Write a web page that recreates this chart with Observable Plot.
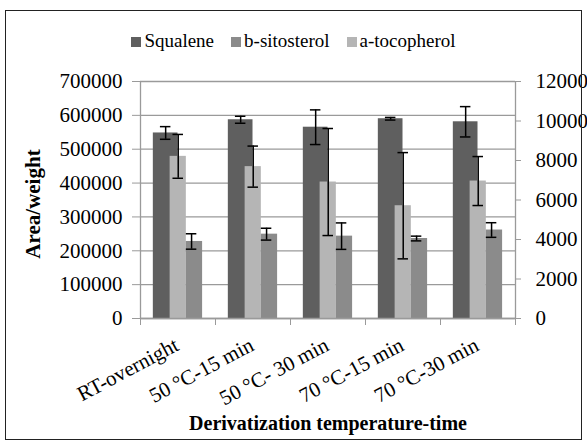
<!DOCTYPE html>
<html><head><meta charset="utf-8">
<script src="https://cdn.jsdelivr.net/npm/d3@7"></script>
<script src="https://cdn.jsdelivr.net/npm/@observablehq/plot@0.6"></script>
<style>
body{margin:0;background:#fff;font-family:"Liberation Serif","Times New Roman",Times,"DejaVu Serif",serif;}
#wrap{position:relative;width:587px;height:444px;}
#chart{position:absolute;left:0;top:0;}
#chart svg, #chart svg text{font-family:"Liberation Serif","Times New Roman",Times,"DejaVu Serif",serif !important;}
#frame{position:absolute;left:5px;top:10px;width:577px;height:430px;border:1.5px solid #222;box-sizing:border-box;pointer-events:none;}
#legend{position:absolute;top:30px;left:0;width:587px;display:flex;justify-content:center;gap:17px;font-size:19px;line-height:22px;color:#000;}
#legend span.sw{display:inline-block;width:10px;height:10px;margin-right:3px;}
</style></head><body>
<div id="wrap"><div id="chart"></div><div id="legend"></div><div id="frame"></div></div>
<script>
const categories = ["RT-overnight", "50 °C-15 min", "50 °C- 30 min", "70 °C-15 min", "70 °C-30 min"];
const seriesNames = ["Squalene", "b-sitosterol", "a-tocopherol"];
const squalene = [548000, 587000, 565000, 590000, 581000];
const squaleneErr = [18700, 10300, 51200, 3900, 44800];
const sitosterol = [3900, 4270, 4170, 4050, 4480];
const sitosterolErr = [390, 300, 670, 120, 370];
const tocopherol = [8210, 7690, 6910, 5710, 6960];
const tocopherolErr = [1110, 1040, 2710, 2690, 1240];
const leftTicks = [0, 100000, 200000, 300000, 400000, 500000, 600000, 700000];
const rightTicks = [0, 2000, 4000, 6000, 8000, 10000, 12000];
const colors = {"Squalene": "#5f5f5f", "b-sitosterol": "#8b8b8b", "a-tocopherol": "#b5b5b5"};

const k = 700000 / 12000; // right axis -> left axis units
const rows = [];
categories.forEach((c, i) => {
  const s = i + 0.5 - 0.329;
  rows.push({series: "Squalene", cat: c, x1: s, x2: s + 0.329, ex: s + 0.1645, v: squalene[i], e: squaleneErr[i]});
  rows.push({series: "a-tocopherol", cat: c, x1: s + 0.224, x2: s + 0.44, ex: s + 0.332, v: tocopherol[i] * k, e: tocopherolErr[i] * k});
  rows.push({series: "b-sitosterol", cat: c, x1: s + 0.44, x2: s + 0.657, ex: s + 0.51, v: sitosterol[i] * k, e: sitosterolErr[i] * k});
});
const capW = 0.07;
const grid = "#9a9a9a";
const FF = "'Liberation Serif','Times New Roman',Times,'DejaVu Serif',serif";

const chart = Plot.plot({
  width: 587, height: 444,
  marginLeft: 140, marginRight: 72, marginTop: 81, marginBottom: 126,
  style: {fontFamily: FF, fontSize: "21px", color: "#000", background: "transparent"},
  x: {type: "linear", domain: [0, categories.length]},
  y: {domain: [0, 700000]},
  marks: [
    Plot.ruleY(leftTicks, {stroke: grid, strokeWidth: 1.3}),
    Plot.ruleX([0, categories.length], {stroke: grid, strokeWidth: 1.3}),
    ...["Squalene", "a-tocopherol", "b-sitosterol"].map(name =>
      Plot.rect(rows.filter(r => r.series === name), {x1: "x1", x2: "x2", y1: 0, y2: "v", fill: colors[name]})
    ),
    Plot.ruleX(rows, {x: "ex", y1: d => d.v - d.e, y2: d => d.v + d.e, stroke: "#000", strokeWidth: 1.5}),
    Plot.ruleY(rows, {y: d => d.v + d.e, x1: d => d.ex - capW, x2: d => d.ex + capW, stroke: "#000", strokeWidth: 1.5}),
    Plot.ruleY(rows, {y: d => d.v - d.e, x1: d => d.ex - capW, x2: d => d.ex + capW, stroke: "#000", strokeWidth: 1.5}),
    Plot.ruleY([0], {stroke: grid, strokeWidth: 1.3}),
    Plot.axisY({anchor: "left", ticks: leftTicks, tickSize: 8, tickPadding: 10, fontSize: 21, fontFamily: FF, tickFormat: d3.format("d"), label: null}),
    Plot.axisY({anchor: "right", ticks: rightTicks.map(v => v * k), tickSize: 5, tickPadding: 15, fontSize: 21, fontFamily: FF, tickFormat: d => String(Math.round(d / k)), label: null}),
    Plot.axisX({ticks: d3.range(categories.length + 1), tickSize: 7, tickFormat: () => "", label: null}),
    Plot.text(categories, {x: (d, i) => i + 0.5, y: 0, text: d => d, textAnchor: "end", rotate: -28, dy: 25, dx: -1, fontSize: 21, fontFamily: FF, fill: "#000"}),
    Plot.text(["Area/weight"], {frameAnchor: "left", text: d => d, textAnchor: "middle", lineAnchor: "middle", rotate: -90, dx: -107, dy: 4, fontSize: 21, fontFamily: FF, fontWeight: "bold", fill: "#000"}),
    Plot.text(["Derivatization temperature-time"], {frameAnchor: "bottom", text: d => d, textAnchor: "middle", lineAnchor: "middle", dy: 105, fontSize: 20, fontFamily: FF, fontWeight: "bold", fill: "#000"})
  ]
});
chart.querySelectorAll("g[aria-label='y-axis tick'], g[aria-label='x-axis tick']").forEach(g => g.setAttribute("stroke", grid));
document.getElementById("chart").appendChild(chart);

const legend = document.getElementById("legend");
seriesNames.forEach(n => {
  const it = document.createElement("div");
  it.innerHTML = `<span class="sw" style="background:${colors[n]}"></span>${n}`;
  legend.appendChild(it);
});
</script>
</body></html>
